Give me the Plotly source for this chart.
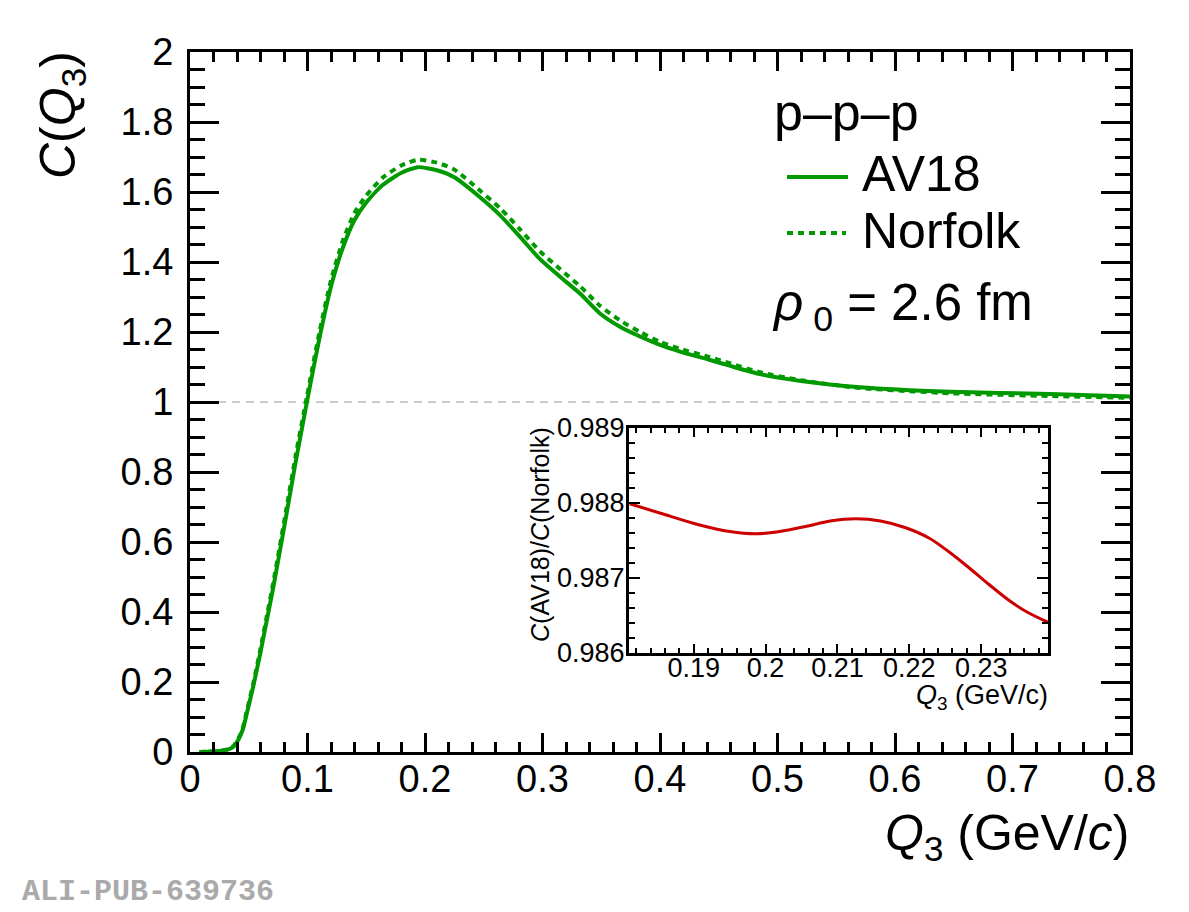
import plotly.graph_objects as go

# main panel: correlation function C(Q3)
q_av18 = [0.008, 0.015, 0.025, 0.032, 0.037, 0.041, 0.045, 0.048, 0.054, 0.06,
          0.065, 0.07, 0.076, 0.0823, 0.09, 0.0995, 0.11, 0.12, 0.13, 0.14,
          0.15, 0.164, 0.18, 0.194, 0.21, 0.225, 0.2468, 0.2638, 0.2809, 0.2979,
          0.3149, 0.3319, 0.3489, 0.366, 0.383, 0.4, 0.417, 0.4426, 0.46, 0.485,
          0.52, 0.57, 0.647, 0.732, 0.8]
c_av18 = [0.0, 0.001, 0.003, 0.007, 0.015, 0.034, 0.065, 0.105, 0.19, 0.285,
          0.37, 0.455, 0.565, 0.683, 0.83, 1.0, 1.18, 1.33, 1.44, 1.52,
          1.57, 1.62, 1.655, 1.671, 1.662, 1.642, 1.585, 1.534, 1.472, 1.408,
          1.358, 1.31, 1.253, 1.215, 1.187, 1.163, 1.144, 1.12, 1.103, 1.08,
          1.06, 1.042, 1.029, 1.023, 1.016]

q_norfolk = q_av18
c_norfolk = [0.0, 0.001, 0.003, 0.008, 0.017, 0.037, 0.07, 0.112, 0.198, 0.295,
             0.382, 0.468, 0.58, 0.7, 0.848, 1.015, 1.197, 1.348, 1.46, 1.54,
             1.59, 1.641, 1.676, 1.692, 1.684, 1.664, 1.604, 1.554, 1.493, 1.43,
             1.38, 1.331, 1.275, 1.233, 1.2, 1.172, 1.152, 1.128, 1.11, 1.085,
             1.062, 1.04, 1.025, 1.017, 1.012]

# inset: ratio AV18 / Norfolk
q_ratio = [0.1811, 0.1855, 0.1907, 0.195, 0.1987, 0.202, 0.2057, 0.209, 0.2126,
           0.216, 0.2195, 0.2228, 0.2255, 0.2284, 0.231, 0.2339, 0.2365, 0.2393]
ratio = [0.98799, 0.98786, 0.98771, 0.98762, 0.98759, 0.98762, 0.98769, 0.98776,
         0.98779, 0.98776, 0.98767, 0.98753, 0.98735, 0.98713, 0.98692, 0.98670,
         0.98654, 0.98641]

green = "#009900"
red = "#cc0000"
font = "Liberation Sans, Arial, Helvetica, sans-serif"

# page body adds an 8px offset, so the figure is placed 8px up/left
W, H = 1173, 904
L, R, T, B = 190, 1130, 52, 752   # plot area in screen pixels


def px(x):
    return (x - L) / (R - L)


def py(y):
    return (B - y) / (B - T)


fig = go.Figure()
fig.add_trace(go.Scatter(x=q_av18, y=c_av18, mode="lines", name="AV18",
                         line=dict(color=green, width=4, shape="spline", smoothing=0.6)))
fig.add_trace(go.Scatter(x=q_norfolk, y=c_norfolk, mode="lines", name="Norfolk",
                         line=dict(color=green, width=4, dash="6px,5px",
                                   shape="spline", smoothing=0.6)))
fig.add_trace(go.Scatter(x=q_ratio, y=ratio, mode="lines", xaxis="x2", yaxis="y2",
                         line=dict(color=red, width=3, shape="spline", smoothing=0.9)))

fig.add_hline(y=1, line=dict(color="#cccccc", width=2, dash="8px,6px"), layer="below")

axis_common = dict(showline=True, linecolor="black", linewidth=3, mirror="ticks",
                   ticks="inside", tickcolor="black", tickwidth=2.5,
                   showgrid=False, zeroline=False)

fig.update_layout(
    width=W, height=H,
    margin=dict(l=L - 8, r=W - (R - 8), t=T - 8, b=H - (B - 8)),
    plot_bgcolor="white", paper_bgcolor="white",
    showlegend=False,
    font=dict(family=font, color="black"),
    xaxis=dict(axis_common, range=[0, 0.8], dtick=0.1, tick0=0, ticklen=19,
               minor=dict(dtick=0.02, ticklen=10, tickwidth=2.5, ticks="inside", tickcolor="black"),
               tickfont=dict(size=38), ticklabelstandoff=-9),
    yaxis=dict(axis_common, range=[0, 2], dtick=0.2, tick0=0, ticklen=29,
               minor=dict(dtick=0.05, ticklen=15, tickwidth=2.5, ticks="inside", tickcolor="black"),
               tickfont=dict(size=38), ticklabelstandoff=6),
    xaxis2=dict(axis_common, domain=[px(629), px(1048)], anchor="y2",
                range=[0.181, 0.2393], dtick=0.01, tick0=0.19, ticklen=9,
                minor=dict(dtick=0.002, ticklen=5, tickwidth=2, ticks="inside", tickcolor="black"),
                tickwidth=2, linewidth=3, tickfont=dict(size=27), ticklabelstandoff=-11),
    yaxis2=dict(axis_common, domain=[py(653), py(428)], anchor="x2",
                range=[0.986, 0.989], dtick=0.001, tick0=0.986, ticklen=11,
                minor=dict(dtick=0.0002, ticklen=6, tickwidth=2, ticks="inside", tickcolor="black"),
                tickwidth=2, linewidth=3, tickfont=dict(size=27), ticklabelstandoff=-4),
)

annotations = [
    dict(text="<i>C</i>(<i>Q</i><sub>3</sub>)", x=px(62), y=py(115), textangle=-90,
         xanchor="center", yanchor="middle", font=dict(size=50)),
    dict(text="<i>Q</i><sub>3</sub> (GeV/<i>c</i>)", x=px(1132), y=py(836),
         xanchor="right", yanchor="middle", font=dict(size=50)),
    dict(text="p–p–p", x=px(772), y=py(112), xanchor="left", yanchor="middle",
         font=dict(size=52)),
    dict(text="AV18", x=px(860), y=py(174), xanchor="left", yanchor="middle",
         font=dict(size=50)),
    dict(text="Norfolk", x=px(860), y=py(231), xanchor="left", yanchor="middle",
         font=dict(size=50)),
    dict(text="<i>ρ</i><sub> 0</sub> = 2.6 fm", x=px(770), y=py(306), xanchor="left",
         yanchor="middle", font=dict(size=51)),
    dict(text="<i>C</i>(AV18)/<i>C</i>(Norfolk)", x=px(540), y=py(535), textangle=-90,
         xanchor="center", yanchor="middle", font=dict(size=25)),
    dict(text="<i>Q</i><sub>3</sub> (GeV/c)", x=px(1050), y=py(697),
         xanchor="right", yanchor="middle", font=dict(size=27)),
    dict(text="<b>ALI-PUB-639736</b>", x=px(20), y=py(892), xanchor="left",
         yanchor="middle", font=dict(size=30, family="Liberation Mono, Courier New, monospace",
                                     color="#aaaaaa")),
]
for a in annotations:
    a.update(xref="paper", yref="paper", showarrow=False)
fig.update_layout(annotations=annotations)

# legend line samples
fig.add_shape(type="line", xref="paper", yref="paper", x0=px(787), x1=px(848),
              y0=py(177), y1=py(177), line=dict(color=green, width=4))
fig.add_shape(type="line", xref="paper", yref="paper", x0=px(787), x1=px(846),
              y0=py(233), y1=py(233), line=dict(color=green, width=4, dash="6px,5px"))

fig.write_html("out.html")
